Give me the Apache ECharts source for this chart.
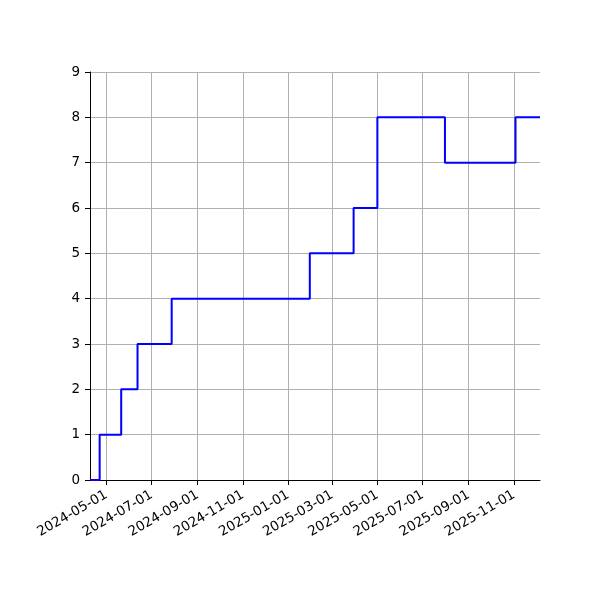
<!DOCTYPE html>
<html>
<head>
<meta charset="utf-8">
<script src="https://cdn.jsdelivr.net/npm/echarts@6/dist/echarts.min.js"></script>
<style>
  html, body { margin: 0; padding: 0; background: #fff; }
  #chart { width: 600px; height: 600px; }
</style>
</head>
<body>
<div id="chart"></div>
<script>
// step change dates and the value that starts on each date
var stepDates = ['2024-04-09', '2024-04-22', '2024-05-21', '2024-06-12', '2024-07-28',
                 '2025-01-30', '2025-03-30', '2025-05-01', '2025-07-31', '2025-11-03', '2025-12-06'];
var stepValues = [0, 1, 2, 3, 4, 5, 6, 8, 7, 8, 8];
var tickDates = ['2024-05-01', '2024-07-01', '2024-09-01', '2024-11-01', '2025-01-01',
                 '2025-03-01', '2025-05-01', '2025-07-01', '2025-09-01', '2025-11-01'];

function t(s) {
    var p = s.split('-');
    return new Date(+p[0], p[1] - 1, +p[2]).getTime();
}

var seriesData = [];
for (var i = 0; i < stepDates.length; i++) {
    seriesData.push([t(stepDates[i]), stepValues[i]]);
}
var tickTimes = tickDates.map(t);

var myChart = echarts.init(document.getElementById('chart'));
var option = {
    animation: false,
    grid: { left: 90, right: 60, top: 72, bottom: 120 },
    xAxis: {
        type: 'time',
        min: t(stepDates[0]),
        max: t(stepDates[stepDates.length - 1]),
        axisLine: { lineStyle: { color: '#000', width: 1 } },
        axisTick: { customValues: tickTimes, length: 5, lineStyle: { color: '#000' } },
        axisLabel: {
            customValues: tickTimes,
            rotate: 30,
            color: '#000',
            fontFamily: 'DejaVu Sans',
            fontSize: 13.5,
            margin: 14,
            formatter: '{yyyy}-{MM}-{dd}'
        },
        splitLine: { show: true, customValues: tickTimes, lineStyle: { color: '#b0b0b0', width: 1 } }
    },
    yAxis: {
        type: 'value',
        min: 0,
        max: 9,
        interval: 1,
        axisLine: { show: true, lineStyle: { color: '#000', width: 1 } },
        axisTick: { show: true, length: 5, lineStyle: { color: '#000' } },
        axisLabel: { color: '#000', fontFamily: 'DejaVu Sans', fontSize: 13.5, margin: 10 },
        splitLine: { show: true, lineStyle: { color: '#b0b0b0', width: 1 } }
    },
    series: [{
        type: 'line',
        step: 'end',
        data: seriesData,
        showSymbol: false,
        lineStyle: { color: '#0000ff', width: 2 }
    }]
};
myChart.setOption(option);
</script>
</body>
</html>
